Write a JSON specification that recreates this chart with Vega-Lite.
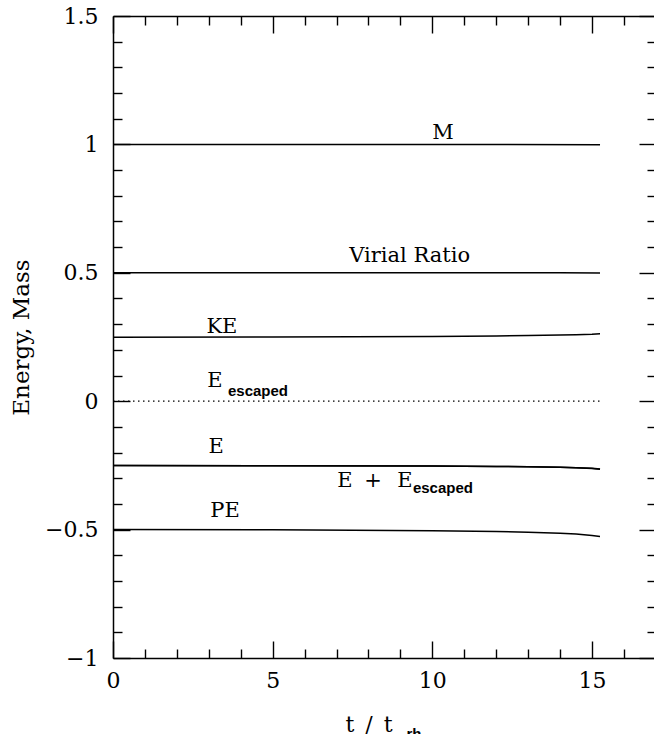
{
  "$schema": "https://vega.github.io/schema/vega-lite/v6.json",
  "autosize": {"type": "none"},
  "padding": {"left": 113, "top": 16, "right": 0, "bottom": 76},
  "width": 541,
  "height": 642,
  "background": "white",
  "config": {
    "view": {"stroke": null},
    "axis": {"grid": false, "tickColor": "black", "domainColor": "black", "labelColor": "black", "titleColor": "black", "labelFont": "DejaVu Serif", "titleFont": "DejaVu Serif", "labelFontSize": 22, "titleFontSize": 22, "labelFontWeight": "normal", "titleFontWeight": "normal", "tickWidth": 1.4, "domainWidth": 1.5, "labelFlush": false, "labelOverlap": false}
  },
  "datasets": {
    "lines": [
      {"series": "M", "t": 0, "v": 1.0}, {"series": "M", "t": 5, "v": 1.0}, {"series": "M", "t": 10, "v": 1.0}, {"series": "M", "t": 15.25, "v": 0.999},
      {"series": "Virial Ratio", "t": 0, "v": 0.5}, {"series": "Virial Ratio", "t": 5, "v": 0.5}, {"series": "Virial Ratio", "t": 10, "v": 0.5}, {"series": "Virial Ratio", "t": 14, "v": 0.5}, {"series": "Virial Ratio", "t": 15.25, "v": 0.499},
      {"series": "KE", "t": 0, "v": 0.249}, {"series": "KE", "t": 5, "v": 0.25}, {"series": "KE", "t": 10, "v": 0.252}, {"series": "KE", "t": 12, "v": 0.254}, {"series": "KE", "t": 13, "v": 0.256}, {"series": "KE", "t": 14, "v": 0.258}, {"series": "KE", "t": 14.5, "v": 0.259}, {"series": "KE", "t": 15, "v": 0.261}, {"series": "KE", "t": 15.25, "v": 0.263},
      {"series": "E", "t": 0, "v": -0.25}, {"series": "E", "t": 5, "v": -0.251}, {"series": "E", "t": 10, "v": -0.252}, {"series": "E", "t": 12, "v": -0.254}, {"series": "E", "t": 13, "v": -0.255}, {"series": "E", "t": 14, "v": -0.257}, {"series": "E", "t": 14.5, "v": -0.259}, {"series": "E", "t": 15, "v": -0.262}, {"series": "E", "t": 15.25, "v": -0.265},
      {"series": "E + E_escaped", "t": 0, "v": -0.25}, {"series": "E + E_escaped", "t": 5, "v": -0.251}, {"series": "E + E_escaped", "t": 10, "v": -0.252}, {"series": "E + E_escaped", "t": 12, "v": -0.254}, {"series": "E + E_escaped", "t": 13, "v": -0.255}, {"series": "E + E_escaped", "t": 14, "v": -0.257}, {"series": "E + E_escaped", "t": 15, "v": -0.261}, {"series": "E + E_escaped", "t": 15.25, "v": -0.264},
      {"series": "PE", "t": 0, "v": -0.5}, {"series": "PE", "t": 5, "v": -0.501}, {"series": "PE", "t": 10, "v": -0.504}, {"series": "PE", "t": 12, "v": -0.507}, {"series": "PE", "t": 13, "v": -0.51}, {"series": "PE", "t": 14, "v": -0.514}, {"series": "PE", "t": 14.5, "v": -0.517}, {"series": "PE", "t": 15, "v": -0.523}, {"series": "PE", "t": 15.25, "v": -0.527}
    ],
    "escaped": [
      {"series": "E_escaped", "t": 0, "v": 0}, {"series": "E_escaped", "t": 15.25, "v": 0}
    ],
    "labels": [
      {"text": "M", "t": 10.33, "v": 1.022},
      {"text": "Virial Ratio", "t": 9.29, "v": 0.543},
      {"text": "KE", "t": 3.41, "v": 0.264},
      {"text": "E", "t": 3.19, "v": 0.0565},
      {"text": "E", "t": 3.23, "v": -0.203},
      {"text": "E", "t": 7.26, "v": -0.333},
      {"text": "+", "t": 8.14, "v": -0.333},
      {"text": "E", "t": 9.14, "v": -0.333},
      {"text": "PE", "t": 3.51, "v": -0.452}
    ],
    "subs": [
      {"text": "escaped", "t": 3.6, "v": 0.02},
      {"text": "escaped", "t": 9.39, "v": -0.359}
    ]
  },
  "layer": [
    {
      "data": {"name": "lines"},
      "mark": {"type": "line", "color": "black", "strokeWidth": 1.5},
      "encoding": {
        "x": {"field": "t", "type": "quantitative", "scale": {"domain": [0, 16.94], "nice": false, "zero": false},
          "axis": {"orient": "bottom", "values": [0, 5, 10, 15], "format": "~g", "tickSize": -17, "labelPadding": 29, "domain": true, "title": "t\u2002/\u2002t", "titleX": 232, "titleY": 73, "titleAlign": "left", "titleBaseline": "alphabetic", "titleAnchor": null}},
        "y": {"field": "v", "type": "quantitative", "scale": {"domain": [-1, 1.5], "nice": false, "zero": false},
          "axis": {"orient": "left", "values": [-1, -0.5, 0, 0.5, 1, 1.5], "format": "~g", "tickSize": -17, "labelPadding": 32, "domain": true, "title": "Energy, Mass", "titleFontSize": 23, "titleX": -85, "titleY": 321, "titleAngle": 270, "titleAlign": "center", "titleBaseline": "alphabetic", "titleAnchor": null}},
        "detail": {"field": "series", "type": "nominal"}
      }
    },
    {
      "data": {"name": "escaped"},
      "mark": {"type": "line", "color": "black", "strokeWidth": 1.2, "strokeDash": [1.5, 3.5]},
      "encoding": {
        "x": {"field": "t", "type": "quantitative", "scale": {"domain": [0, 16.94], "nice": false, "zero": false},
          "axis": {"orient": "bottom", "values": [1, 2, 3, 4, 6, 7, 8, 9, 11, 12, 13, 14, 16], "tickSize": -9, "labels": false, "domain": false, "title": "rh", "titleFont": "Liberation Sans", "titleFontWeight": "bold", "titleFontSize": 15, "titleX": 293, "titleY": 80, "titleAlign": "left", "titleBaseline": "alphabetic", "titleAnchor": null}},
        "y": {"field": "v", "type": "quantitative", "scale": {"domain": [-1, 1.5], "nice": false, "zero": false},
          "axis": {"orient": "left", "values": [-0.9, -0.8, -0.7, -0.6, -0.4, -0.3, -0.2, -0.1, 0.1, 0.2, 0.3, 0.4, 0.6, 0.7, 0.8, 0.9, 1.1, 1.2, 1.3, 1.4], "tickSize": -9, "labels": false, "domain": false, "title": null}}
      }
    },
    {
      "data": {"name": "labels"},
      "mark": {"type": "text", "color": "black", "font": "DejaVu Serif", "fontSize": 21, "align": "center", "baseline": "alphabetic"},
      "encoding": {
        "x": {"field": "t", "type": "quantitative", "scale": {"domain": [0, 16.94], "nice": false, "zero": false},
          "axis": {"orient": "top", "values": [0, 5, 10, 15], "tickSize": -17, "labels": false, "domain": true, "title": null}},
        "y": {"field": "v", "type": "quantitative", "scale": {"domain": [-1, 1.5], "nice": false, "zero": false},
          "axis": {"orient": "right", "values": [-1, -0.5, 0, 0.5, 1, 1.5], "tickSize": -15, "labels": false, "domain": false, "title": null}},
        "text": {"field": "text", "type": "nominal"}
      }
    },
    {
      "data": {"name": "subs"},
      "mark": {"type": "text", "color": "black", "font": "Liberation Sans", "fontWeight": "bold", "fontSize": 15, "align": "left", "baseline": "alphabetic"},
      "encoding": {
        "x": {"field": "t", "type": "quantitative", "scale": {"domain": [0, 16.94], "nice": false, "zero": false},
          "axis": {"orient": "top", "values": [1, 2, 3, 4, 6, 7, 8, 9, 11, 12, 13, 14, 16], "tickSize": -9, "labels": false, "domain": false, "title": null}},
        "y": {"field": "v", "type": "quantitative", "scale": {"domain": [-1, 1.5], "nice": false, "zero": false},
          "axis": {"orient": "right", "values": [-0.9, -0.8, -0.7, -0.6, -0.4, -0.3, -0.2, -0.1, 0.1, 0.2, 0.3, 0.4, 0.6, 0.7, 0.8, 0.9, 1.1, 1.2, 1.3, 1.4], "tickSize": -7, "labels": false, "domain": false, "title": null}},
        "text": {"field": "text", "type": "nominal"}
      }
    }
  ],
  "resolve": {"axis": {"x": "independent", "y": "independent"}}
}
